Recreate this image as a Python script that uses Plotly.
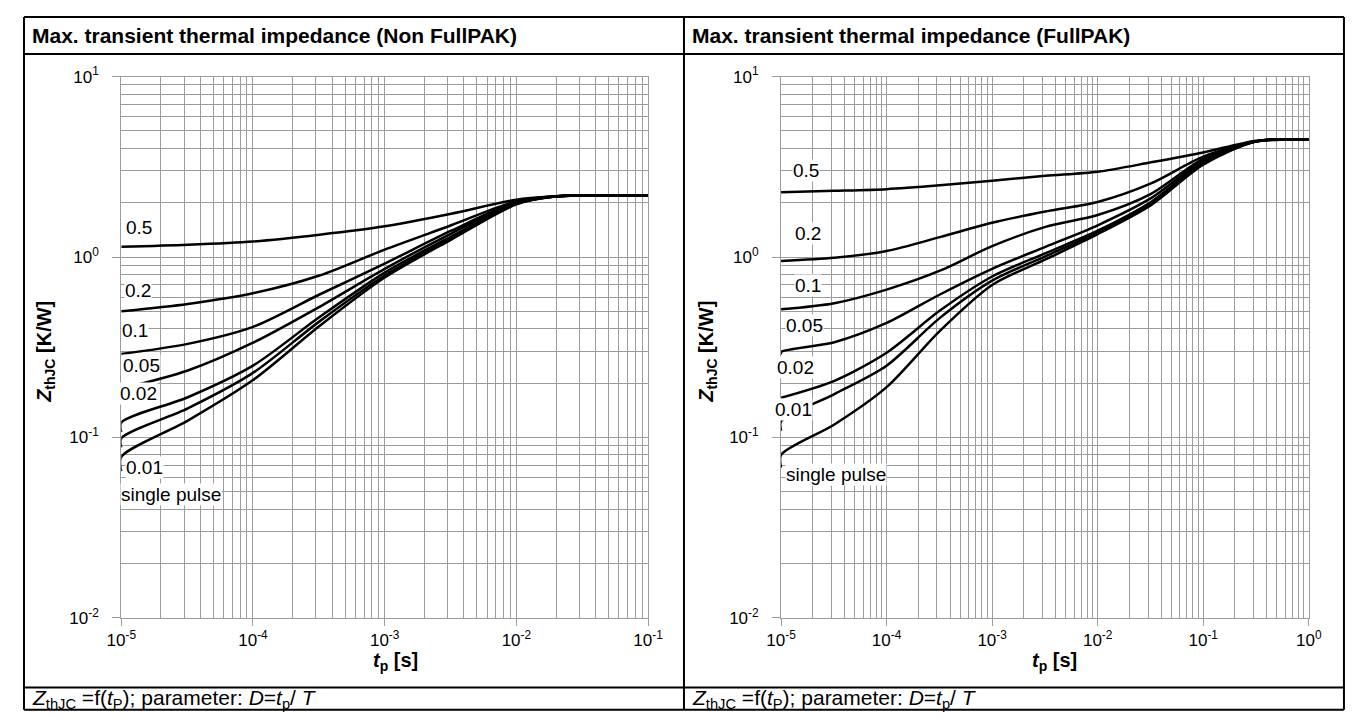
import plotly.graph_objects as go

# page: body has default 8px margin -> figure 1349x707 fills a 1365x723 window
OFF = 8
W, H = 1365 - 2 * OFF, 723 - 2 * OFF

def px(x):
    return (x - OFF) / W

def py(y):
    return 1 - (y - OFF) / H

# ---------------- data: left panel (Non FullPAK) ----------------
L_TP = [1e-5, 3.2e-5, 1e-4, 3.2e-4, 1e-3, 3.2e-3, 1e-2, 2e-2, 3.2e-2, 1e-1]
L_D05 = [1.14, 1.17, 1.22, 1.33, 1.48, 1.74, 2.08, 2.17, 2.20, 2.20]
L_D02 = [0.50, 0.55, 0.63, 0.79, 1.10, 1.50, 2.04, 2.17, 2.20, 2.20]
L_D01 = [0.29, 0.33, 0.41, 0.62, 0.92, 1.40, 2.02, 2.17, 2.20, 2.20]
L_D005 = [0.186, 0.235, 0.335, 0.53, 0.86, 1.35, 2.00, 2.17, 2.20, 2.20]
L_D002 = [0.121, 0.167, 0.25, 0.465, 0.82, 1.30, 1.98, 2.17, 2.20, 2.20]
L_D001 = [0.099, 0.145, 0.228, 0.44, 0.79, 1.27, 1.97, 2.17, 2.20, 2.20]
L_SP = [0.078, 0.124, 0.208, 0.415, 0.77, 1.25, 1.96, 2.17, 2.20, 2.20]
# short vertical start stubs (value at 1e-5 below the curve start)
L_STUB = {"0.02": 0.107, "0.01": 0.088, "single pulse": 0.065}

# ---------------- data: right panel (FullPAK) ----------------
R_TP = [1e-5, 3.2e-5, 1e-4, 3.2e-4, 1e-3, 3.2e-3, 1e-2, 3.2e-2, 1e-1, 3.2e-1, 1.0]
R_D05 = [2.29, 2.33, 2.38, 2.50, 2.65, 2.82, 2.97, 3.35, 3.80, 4.42, 4.48]
R_D02 = [0.952, 0.99, 1.08, 1.29, 1.55, 1.79, 2.02, 2.56, 3.60, 4.38, 4.48]
R_D01 = [0.513, 0.555, 0.66, 0.84, 1.15, 1.47, 1.71, 2.24, 3.50, 4.38, 4.48]
R_D005 = [0.298, 0.337, 0.431, 0.62, 0.86, 1.14, 1.50, 2.12, 3.42, 4.38, 4.48]
R_D002 = [0.166, 0.206, 0.295, 0.505, 0.78, 1.05, 1.40, 2.02, 3.35, 4.38, 4.48]
R_D001 = [0.123, 0.174, 0.25, 0.46, 0.74, 1.01, 1.37, 1.98, 3.30, 4.38, 4.48]
R_SP = [0.080, 0.118, 0.19, 0.39, 0.70, 0.97, 1.34, 1.94, 3.25, 4.38, 4.48]
R_STUB = {"0.05": 0.288, "0.01": 0.109, "single pulse": 0.068}

LABELS = ["0.5", "0.2", "0.1", "0.05", "0.02", "0.01", "single pulse"]
L_SERIES = [L_D05, L_D02, L_D01, L_D005, L_D002, L_D001, L_SP]
R_SERIES = [R_D05, R_D02, R_D01, R_D005, R_D002, R_D001, R_SP]

X_TICKS_L = [1e-5, 1e-4, 1e-3, 1e-2, 1e-1]
X_TEXT_L = ["10<sup>-5</sup>", "10<sup>-4</sup>", "10<sup>-3</sup>", "10<sup>-2</sup>", "10<sup>-1</sup>"]
X_TICKS_R = [1e-5, 1e-4, 1e-3, 1e-2, 1e-1, 1.0]
X_TEXT_R = ["10<sup>-5</sup>", "10<sup>-4</sup>", "10<sup>-3</sup>", "10<sup>-2</sup>", "10<sup>-1</sup>", "10<sup>0</sup>"]
Y_TICKS = [1e-2, 1e-1, 1.0, 10.0]
Y_TEXT = ["10<sup>-2</sup>", "10<sup>-1</sup>", "10<sup>0</sup>", "10<sup>1</sup>"]

FONT = "Liberation Sans, Arial, sans-serif"
GRID = "#9c9c9c"

fig = go.Figure()

def add_curves(series, tp, stubs, xa, ya):
    for name, vals in zip(LABELS, series):
        xs = list(tp)
        ys = list(vals)
        if name in stubs:
            xs = [tp[0]] + xs
            ys = [stubs[name]] + ys
        fig.add_trace(go.Scatter(x=xs, y=ys, mode="lines", xaxis=xa, yaxis=ya,
                                 line=dict(color="black", width=2.5, shape="spline", smoothing=0.8),
                                 showlegend=False, hoverinfo="skip"))

add_curves(L_SERIES, L_TP, L_STUB, "x", "y")
add_curves(R_SERIES, R_TP, R_STUB, "x2", "y2")

def minor_vals(lo, hi):
    vals = []
    for e in range(lo, hi):
        for m in range(2, 10):
            vals.append(m * 10.0 ** e)
    return vals

def xaxis(dom, rng, tv, tt, lo, hi, anchor):
    return dict(type="log", domain=dom, range=rng, tickvals=tv, ticktext=tt,
                ticks="outside", ticklen=7, tickcolor=GRID, showgrid=True, gridcolor=GRID,
                gridwidth=1, showline=True, linecolor=GRID, linewidth=1, mirror=True,
                tickfont=dict(size=17, color="black", family=FONT),
                minor=dict(tickvals=minor_vals(lo, hi), showgrid=True, gridcolor=GRID,
                           gridwidth=1, ticks=""),
                anchor=anchor, fixedrange=True, zeroline=False)

def yaxis(dom, anchor):
    return dict(type="log", domain=dom, range=[-2, 1], tickvals=Y_TICKS, ticktext=Y_TEXT,
                ticks="outside", ticklen=8, tickcolor=GRID, showgrid=True, gridcolor=GRID,
                gridwidth=1, showline=True, linecolor=GRID, linewidth=1, mirror=True,
                tickfont=dict(size=17, color="black", family=FONT), ticklabelstandoff=10,
                minor=dict(tickvals=minor_vals(-2, 1), showgrid=True, gridcolor=GRID,
                           gridwidth=1, ticks=""),
                anchor=anchor, fixedrange=True, zeroline=False)

ydom = [py(625), py(66.5)]
fig.update_layout(
    width=W, height=H, margin=dict(l=0, r=0, t=0, b=0),
    paper_bgcolor="white", plot_bgcolor="white",
    font=dict(family=FONT, color="black"),
    xaxis=xaxis([px(108.5), px(647.3)], [-5, -1], X_TICKS_L, X_TEXT_L, -5, -1, "y"),
    yaxis=yaxis(ydom, "x"),
    xaxis2=xaxis([px(783.3), px(1323)], [-5, 0], X_TICKS_R, X_TEXT_R, -5, 0, "y2"),
    yaxis2=yaxis(ydom, "x2"),
)

ann = []
# panel titles
ann.append(dict(text="<b>Max. transient thermal impedance (Non FullPAK)</b>", x=px(15), y=py(24),
                xanchor="left", yanchor="middle", font=dict(size=21)))
ann.append(dict(text="<b>Max. transient thermal impedance (FullPAK)</b>", x=px(690), y=py(24),
                xanchor="left", yanchor="middle", font=dict(size=21)))
# captions
cap = "<i>Z</i><sub>thJC</sub> =f(<i>t</i><sub>P</sub>); parameter: <i>D</i>=<i>t</i><sub>p</sub>/ <i>T</i>"
ann.append(dict(text=cap, x=px(15), y=py(709), xanchor="left", yanchor="middle", font=dict(size=21)))
ann.append(dict(text=cap, x=px(690), y=py(709), xanchor="left", yanchor="middle", font=dict(size=21)))
# axis titles
ytitle = "<b><i>Z</i><sub>thJC</sub> [K/W]</b>"
xtitle = "<b><i>t</i><sub>p</sub> [s]</b>"
for xc in (31, 708):
    ann.append(dict(text=ytitle, x=px(xc), y=py(350), textangle=-90, xanchor="center",
                    yanchor="middle", font=dict(size=20)))
for xc in (389, 1063):
    ann.append(dict(text=xtitle, x=px(xc), y=py(670), xanchor="center", yanchor="middle",
                    font=dict(size=20)))
# curve labels
L_LAB_POS = [(112, 222), (111, 287), (108, 328), (109, 365), (106, 393), (112, 470), (107, 498)]
R_LAB_POS = [(794, 163), (797, 228), (797, 282), (787, 323), (778, 367), (776, 410), (787, 477)]
for name, (lx, ly) in zip(LABELS, L_LAB_POS):
    ann.append(dict(text=name, x=px(lx), y=py(ly), xanchor="left", yanchor="middle",
                    font=dict(size=19), bgcolor="white", borderpad=0))
for name, (lx, ly) in zip(LABELS, R_LAB_POS):
    ann.append(dict(text=name, x=px(lx), y=py(ly), xanchor="left", yanchor="middle",
                    font=dict(size=19), bgcolor="white", borderpad=0))
for a in ann:
    a.update(xref="paper", yref="paper", showarrow=False)
    a["font"].update(family=FONT, color="black")
fig.update_layout(annotations=ann)

# table frame
shapes = []
def line(x0, y0, x1, y1):
    shapes.append(dict(type="line", xref="paper", yref="paper", x0=px(x0), y0=py(y0),
                       x1=px(x1), y1=py(y1), line=dict(color="black", width=2)))
line(9, 5, 1359, 5)
line(9, 720, 1359, 720)
line(9, 5, 9, 720)
line(1359, 5, 1359, 720)
line(684, 5, 684, 720)
line(9, 43, 1359, 43)
line(9, 697, 1359, 697)
fig.update_layout(shapes=shapes)

fig.write_html("out.html", config={"displayModeBar": False})
